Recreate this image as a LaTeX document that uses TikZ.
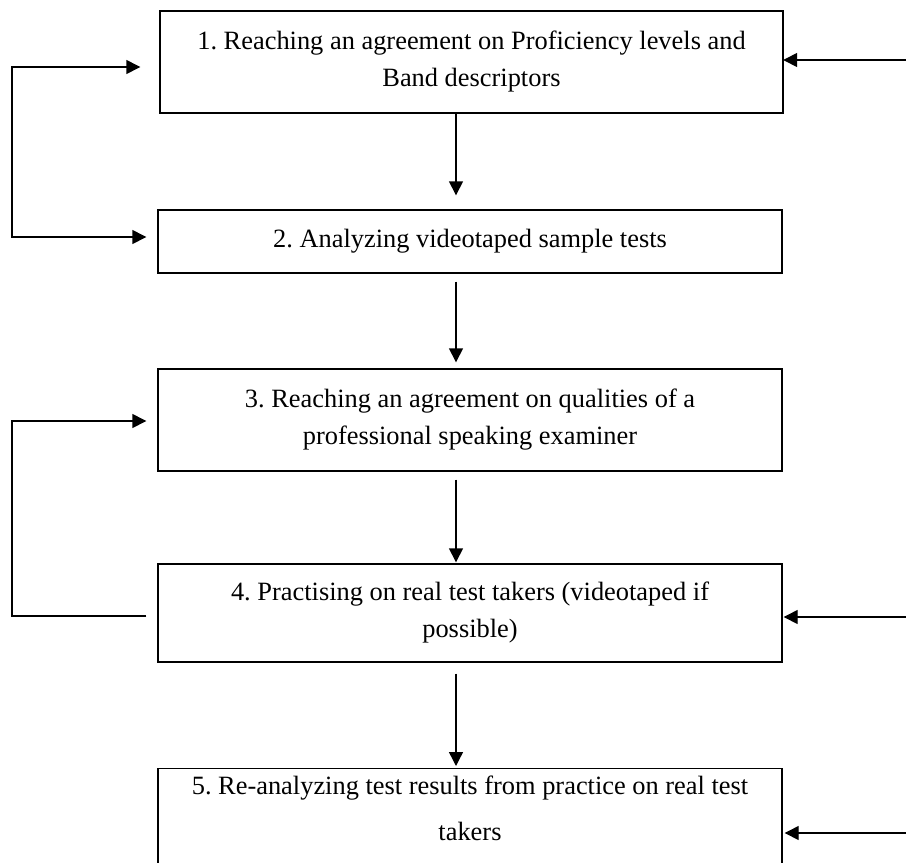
\documentclass[tikz,border=0pt]{standalone}
\usepackage{fontspec}
\setmainfont{Liberation Serif}
\usetikzlibrary{arrows.meta}
\begin{document}
\frenchspacing
\begin{tikzpicture}[x=1pt,y=-1pt,
  box/.style={draw, line width=1.4pt, minimum width=624pt, align=center, inner sep=0pt,
    font=\fontsize{26.4}{37}\selectfont},
  txt/.style={align=center, inner sep=0pt, font=\fontsize{26.4}{46}\selectfont},
  arr/.style={line width=1.4pt, -{Triangle[length=14pt,width=14pt]}},
  arrs/.style={line width=1.4pt, {Triangle[length=14pt,width=14pt]}-{Triangle[length=14pt,width=14pt]}},
  plain/.style={line width=1.4pt}]
\useasboundingbox (0,0) rectangle (906,863);
\clip (0,0) rectangle (906,863);
% boxes
\node[box, minimum width=623pt, minimum height=102pt] (b1) at (471.5,62)
  {1. Reaching an agreement on Proficiency levels and\\Band descriptors};
\node[box, minimum height=63pt] (b2) at (470,241.5)
  {2. Analyzing videotaped sample tests};
\node[box, minimum height=102pt] (b3) at (470,420)
  {3. Reaching an agreement on qualities of a\\professional speaking examiner};
\node[box, minimum height=98pt] (b4) at (470,613)
  {4. Practising on real test takers (videotaped if\\possible)};
\node[box, minimum height=200pt, anchor=north] (b5) at (470,768) {};
\node[txt] (t5) at (470,808)
  {5. Re-analyzing test results from practice on real test\\takers};
% vertical arrows
\coordinate (cx) at (456,0);
\draw[arr, shorten >=14pt] (b1.south -| cx) -- (b2.north -| cx);
\draw[arr, shorten <=8pt, shorten >=6pt] (b2.south -| cx) -- (b3.north -| cx);
\draw[arr, shorten <=8pt, shorten >=1pt] (b3.south -| cx) -- (b4.north -| cx);
\draw[arr, shorten <=11pt, shorten >=2pt] (b4.south -| cx) -- (b5.north -| cx);
% left loops
\coordinate (lx) at (12,0);
\coordinate (a1) at ([yshift=-5pt]b1.west);
\coordinate (a2) at ([yshift=4.5pt]b2.west);
\coordinate (a3) at ([yshift=-1pt]b3.west);
\coordinate (a4) at ([yshift=-3pt]b4.west);
\draw[arrs, shorten <=19pt, shorten >=11pt]
  (a1) -- (lx |- a1) -- (lx |- a2) -- (a2);
\draw[arr, shorten <=11pt, shorten >=11pt]
  (a4) -- (lx |- a4) -- (lx |- a3) -- (a3);
% right arrows
\coordinate (r1) at (906,60);
\coordinate (r4) at (906,617);
\coordinate (r5) at (906,833);
\draw[arr, shorten >=-0.5pt] (r1) -- (b1.east |- r1);
\draw[arr, shorten >=1pt] (r4) -- (b4.east |- r4);
\draw[arr, shorten >=2pt] (r5) -- (b5.east |- r5);
\end{tikzpicture}
\end{document}
